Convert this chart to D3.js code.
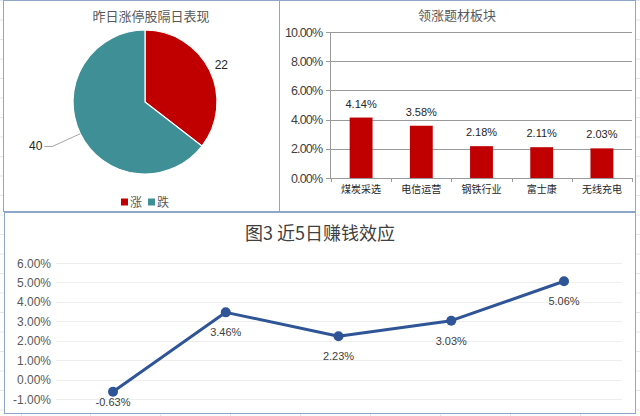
<!DOCTYPE html>
<html>
<head>
<meta charset="utf-8">
<script src="https://cdn.jsdelivr.net/npm/d3@7"></script>
<style>
  body { margin: 0; background: #fff; }
  svg { display: block; font-family: "Liberation Sans", Arial, "Noto Sans CJK SC", sans-serif; }
  .cjk { font-family: "Noto Sans CJK SC", sans-serif; }
</style>
</head>
<body>
<div id="container"></div>
<script>
// pie: 昨日涨停股隔日表现
var pieNames = ["涨", "跌"];
var pieValues = [22, 40];
var pieColors = ["#c00000", "#3e8f96"];

// bars: 领涨题材板块 (percent)
var barNames = ["煤炭采选", "电信运营", "钢铁行业", "富士康", "无线充电"];
var barValues = [4.14, 3.58, 2.18, 2.11, 2.03];
var barTicks = [0, 2, 4, 6, 8, 10];

// line: 近5日赚钱效应 (percent)
var lineDays = ["1", "2", "3", "4", "5"];
var lineValues = [-0.63, 3.46, 2.23, 3.03, 5.06];
var lineTicks = [-1, 0, 1, 2, 3, 4, 5, 6];

// excel style: plain hyphen for negatives
var pct = function(v){ return d3.format(".2%")(v / 100).replace("\u2212", "-"); };

var svg = d3.select("#container").append("svg")
            .attr("width", 640).attr("height", 416);

// spreadsheet cells behind
var bg = svg.append("g").attr("stroke", "#e6e6e6").attr("stroke-width", 1);
d3.range(0, 416, 19.5).forEach(function(y){
  bg.append("line").attr("x1", 0).attr("x2", 640).attr("y1", y + 0.5).attr("y2", y + 0.5);
});
[21, 90, 160, 230, 300, 370, 440, 510, 580].forEach(function(x){
  bg.append("line").attr("x1", x + 0.5).attr("x2", x + 0.5).attr("y1", 0).attr("y2", 416);
});

// panels
var panels = [[3, 0, 277, 211], [279, 0, 356, 211], [4, 212, 631, 201]];
svg.append("g").selectAll("rect").data(panels).enter().append("rect")
   .attr("x", function(d){ return d[0] + 0.5; })
   .attr("y", function(d){ return d[1] + 0.5; })
   .attr("width", function(d){ return d[2]; })
   .attr("height", function(d){ return d[3]; })
   .attr("fill", "#fff").attr("stroke", "#8ea6c8");

// ---------- pie ----------
var pieG = svg.append("g").attr("transform", "translate(145,102)");
var arcs = d3.pie().sort(null)(pieValues);
var arc = d3.arc().innerRadius(0).outerRadius(72);
pieG.selectAll("path").data(arcs).enter().append("path")
    .attr("d", arc)
    .attr("fill", function(d, i){ return pieColors[i]; })
    .attr("stroke", "#fff").attr("stroke-width", 1.2);

function polar(a, r){ return [Math.sin(a) * r, -Math.cos(a) * r]; }
var labelR = [85, 101];
arcs.forEach(function(d, i){
  var mid = (d.startAngle + d.endAngle) / 2;
  var p = polar(mid, labelR[i]);
  if (i == 1) {
    var e = polar(mid, 72);
    pieG.append("path")
        .attr("d", "M" + e[0] + "," + e[1] + " L" + (p[0] - 2) + "," + p[1] + " L" + (p[0] - 10) + "," + p[1])
        .attr("fill", "none").attr("stroke", "#a6a6a6");
    pieG.append("text").attr("x", p[0] - 12).attr("y", p[1] + 4)
        .attr("text-anchor", "end").attr("font-size", 12).attr("fill", "#262626")
        .text(d.data);
  } else {
    pieG.append("text").attr("x", p[0]).attr("y", p[1] + 4)
        .attr("text-anchor", "middle").attr("font-size", 12).attr("fill", "#262626")
        .text(d.data);
  }
});

svg.append("text").attr("class", "cjk").attr("x", 151).attr("y", 21)
   .attr("text-anchor", "middle").attr("font-size", 13).attr("fill", "#595959")
   .text("昨日涨停股隔日表现");

var legend = svg.append("g").selectAll("g").data(pieNames).enter().append("g")
   .attr("transform", function(d, i){ return "translate(" + (121 + i * 27) + ",202)"; });
legend.append("rect").attr("x", 0).attr("y", -3.5).attr("width", 7).attr("height", 7)
      .attr("fill", function(d, i){ return pieColors[i]; });
legend.append("text").attr("class", "cjk").attr("x", 9).attr("y", 4.5)
      .attr("font-size", 12).attr("fill", "#595959").text(function(d){ return d; });

// ---------- bars ----------
var bx = d3.scaleBand().domain(barNames).range([331, 632]).paddingInner(0.62).paddingOuter(0.31);
var by = d3.scaleLinear().domain([0, 10]).range([178, 32]);

var barG = svg.append("g");
barG.append("g").selectAll("line").data(barTicks).enter().append("line")
    .attr("x1", 326).attr("x2", 632)
    .attr("y1", function(d){ return Math.round(by(d)) + 0.5; })
    .attr("y2", function(d){ return Math.round(by(d)) + 0.5; })
    .attr("stroke", "#9a9a9a");
barG.append("line").attr("x1", 330.5).attr("x2", 330.5).attr("y1", by(10)).attr("y2", by(0))
    .attr("stroke", "#9a9a9a");
barG.append("g").selectAll("line").data(d3.range(barNames.length + 1)).enter().append("line")
    .attr("x1", function(d){ return Math.round(331 + d * (632 - 331) / barNames.length) + 0.5; })
    .attr("x2", function(d){ return Math.round(331 + d * (632 - 331) / barNames.length) + 0.5; })
    .attr("y1", 178).attr("y2", 182).attr("stroke", "#9a9a9a");

barG.append("g").selectAll("text").data(barTicks).enter().append("text")
    .attr("x", 323).attr("y", function(d){ return by(d) + 4.5; })
    .attr("text-anchor", "end").attr("font-size", 12.5).attr("fill", "#404040")
    .attr("textLength", function(d){ return d >= 10 ? 38 : 32; })
    .text(function(d){ return pct(d); });

barG.append("g").selectAll("rect").data(barValues).enter().append("rect")
    .attr("x", function(d, i){ return bx(barNames[i]); })
    .attr("y", function(d){ return by(d); })
    .attr("width", bx.bandwidth())
    .attr("height", function(d){ return by(0) - by(d); })
    .attr("fill", "#c00000");

barG.append("g").selectAll("text").data(barValues).enter().append("text")
    .attr("x", function(d, i){ return bx(barNames[i]) + bx.bandwidth() / 2; })
    .attr("y", function(d){ return by(d) - 10; })
    .attr("text-anchor", "middle").attr("font-size", 11).attr("fill", "#262626")
    .text(function(d){ return pct(d); });

barG.append("g").selectAll("text").data(barNames).enter().append("text")
    .attr("class", "cjk")
    .attr("x", function(d){ return bx(d) + bx.bandwidth() / 2; })
    .attr("y", 193)
    .attr("text-anchor", "middle").attr("font-size", 10).attr("fill", "#262626")
    .text(function(d){ return d; });

svg.append("text").attr("class", "cjk").attr("x", 457).attr("y", 20)
   .attr("text-anchor", "middle").attr("font-size", 13).attr("fill", "#595959")
   .text("领涨题材板块");

// ---------- line ----------
var lx = d3.scalePoint().domain(lineDays).range([113, 564]);
var ly = d3.scaleLinear().domain([-1, 6]).range([399, 263]);

var lineG = svg.append("g");
lineG.append("g").selectAll("line").data(lineTicks).enter().append("line")
     .attr("x1", 56).attr("x2", 622)
     .attr("y1", function(d){ return Math.round(ly(d)) + 0.5; })
     .attr("y2", function(d){ return Math.round(ly(d)) + 0.5; })
     .attr("stroke", "#eeeeee");
lineG.append("g").selectAll("text").data(lineTicks).enter().append("text")
     .attr("x", 51).attr("y", function(d){ return ly(d) + 4.5; })
     .attr("text-anchor", "end").attr("font-size", 12).attr("fill", "#595959")
     .text(function(d){ return pct(d); });

var line = d3.line()
             .x(function(d, i){ return lx(lineDays[i]); })
             .y(function(d){ return ly(d); });
lineG.append("path").datum(lineValues).attr("d", line)
     .attr("fill", "none").attr("stroke", "#2f5597").attr("stroke-width", 3)
     .attr("stroke-linejoin", "round");
lineG.append("g").selectAll("circle").data(lineValues).enter().append("circle")
     .attr("cx", function(d, i){ return lx(lineDays[i]); })
     .attr("cy", function(d){ return ly(d); })
     .attr("r", 5).attr("fill", "#2f5597");
lineG.append("g").selectAll("text").data(lineValues).enter().append("text")
     .attr("x", function(d, i){ return lx(lineDays[i]); })
     .attr("y", function(d){ return Math.min(ly(d) + 24, 406); })
     .attr("text-anchor", "middle").attr("font-size", 11).attr("fill", "#404040")
     .text(function(d){ return pct(d); });

svg.append("text").attr("class", "cjk").attr("x", 320).attr("y", 240)
   .attr("text-anchor", "middle").attr("font-size", 18).attr("fill", "#404040")
   .text("图3 近5日赚钱效应");
</script>
</body>
</html>
